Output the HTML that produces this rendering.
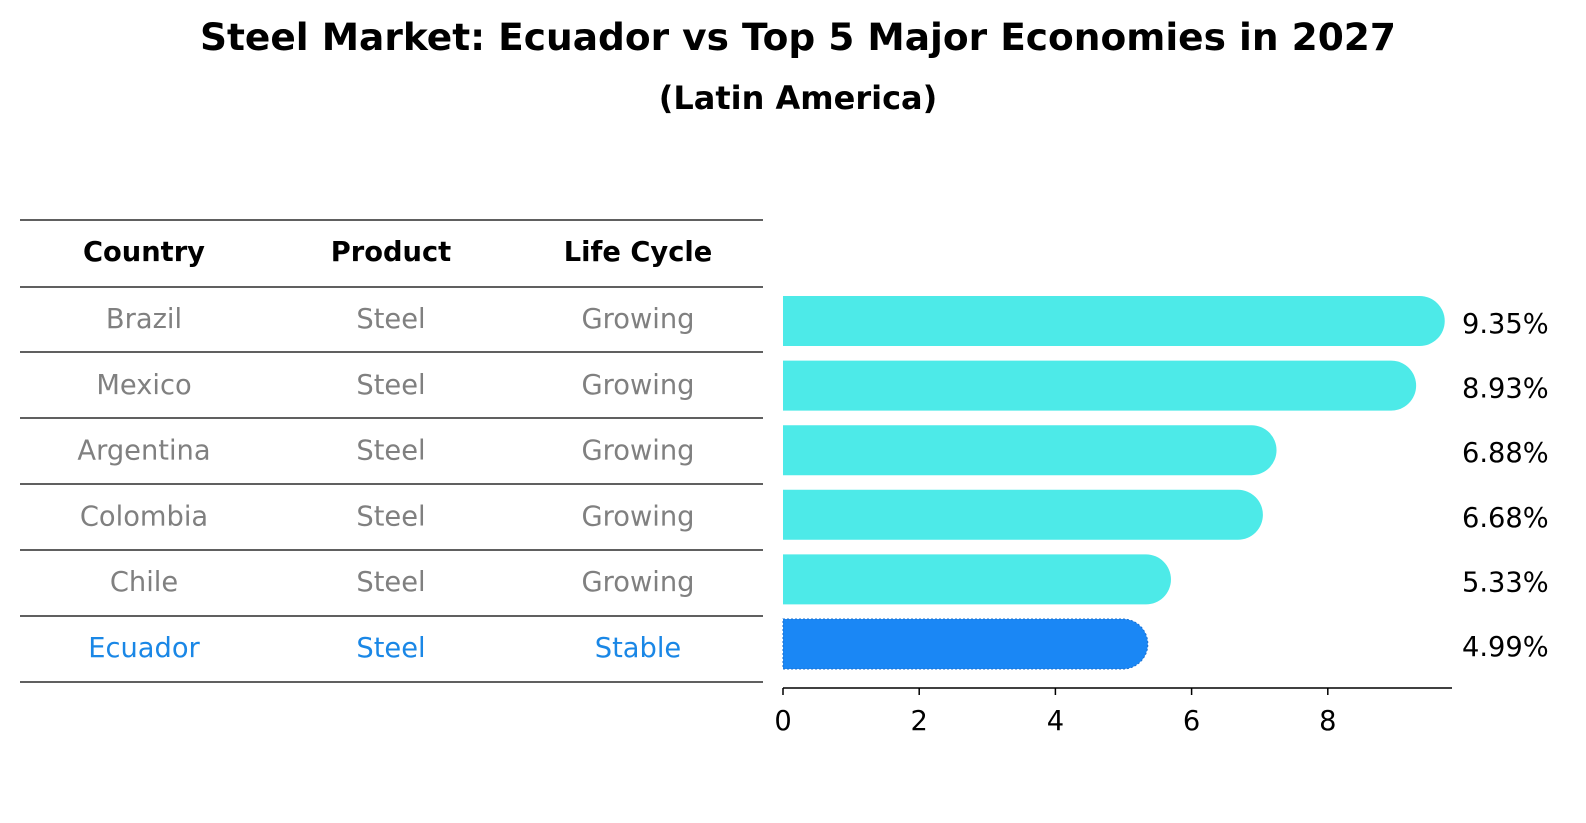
<!DOCTYPE html>
<html><head><meta charset="utf-8"><style>
html,body{margin:0;padding:0;overflow:hidden;background:#fff;font-family:"DejaVu Sans","Liberation Sans",sans-serif;}
svg{display:block;}
svg text{font-family:"DejaVu Sans","Liberation Sans",sans-serif;}
</style></head><body>
<svg width="1586" height="823" xmlns="http://www.w3.org/2000/svg">
<text x="798" y="50" text-anchor="middle" font-size="37.5" font-weight="bold">Steel Market: Ecuador vs Top 5 Major Economies in 2027</text>
<text x="798" y="109" text-anchor="middle" font-size="32" font-weight="bold">(Latin America)</text>
<g id="table"></g>
<g id="bars"></g>
</svg>
<script>
const countries=["Brazil","Mexico","Argentina","Colombia","Chile","Ecuador"];
const products=["Steel","Steel","Steel","Steel","Steel","Steel"];
const lifeCycles=["Growing","Growing","Growing","Growing","Growing","Stable"];
const values=[9.35,8.93,6.88,6.68,5.33,4.99];
const xTicks=[0,2,4,6,8];
const NS="http://www.w3.org/2000/svg";
const FS=27.3;
function mk(tag,attrs,parent){const e=document.createElementNS(NS,tag);for(const k in attrs)e.setAttribute(k,attrs[k]);parent.appendChild(e);return e;}
const table=document.getElementById('table'),bars=document.getElementById('bars');
const colX=[144,391,638];
const lineY=i=>220+i*66;
for(let i=0;i<8;i++){const l=mk('line',{x1:20,x2:763,y1:lineY(i)+(i==1?1:0),y2:lineY(i)+(i==1?1:0),stroke:'#000','stroke-width':1.2},table);

}
["Country","Product","Life Cycle"].forEach((h,j)=>{const t=mk('text',{x:colX[j],y:261,'text-anchor':'middle','font-size':FS,'font-weight':'bold'},table);t.textContent=h;

});
countries.forEach((c,i)=>{const col=c==="Ecuador"?"#1a87e6":"#808080";const y=328+i*65.8;
[c,products[i],lifeCycles[i]].forEach((v,j)=>{const t=mk('text',{x:colX[j],y:y,'text-anchor':'middle','font-size':FS,fill:col},table);t.textContent=v;

});});
const x0=783,sx=68.1;const X=v=>x0+v*sx;
const Y=i=>321+i*64.6;const r=25;
values.forEach((v,i)=>{const yc=Y(i);const xe=X(v);const ecu=countries[i]==="Ecuador";
const p=mk('path',{d:`M${x0},${yc-r} H${xe} A${r},${r} 0 0 1 ${xe},${yc+r} H${x0} Z`,fill:ecu?'#1a87f5':'#4deae8',stroke:ecu?'#1a6fd0':'none','stroke-dasharray':ecu?'2,2':'none'},bars);


const t=mk('text',{x:1462,y:yc+12,'font-size':FS},bars);t.textContent=v.toFixed(2)+'%';

});
const ax=mk('line',{x1:x0,x2:1452,y1:688,y2:688,stroke:'#000','stroke-width':1.5},bars);


xTicks.forEach(v=>{const tk=mk('line',{x1:X(v),x2:X(v),y1:688,y2:695,stroke:'#000','stroke-width':1.5},bars);


const t=mk('text',{x:X(v),y:730,'text-anchor':'middle','font-size':FS},bars);t.textContent=v;

});
</script>
</body></html>
